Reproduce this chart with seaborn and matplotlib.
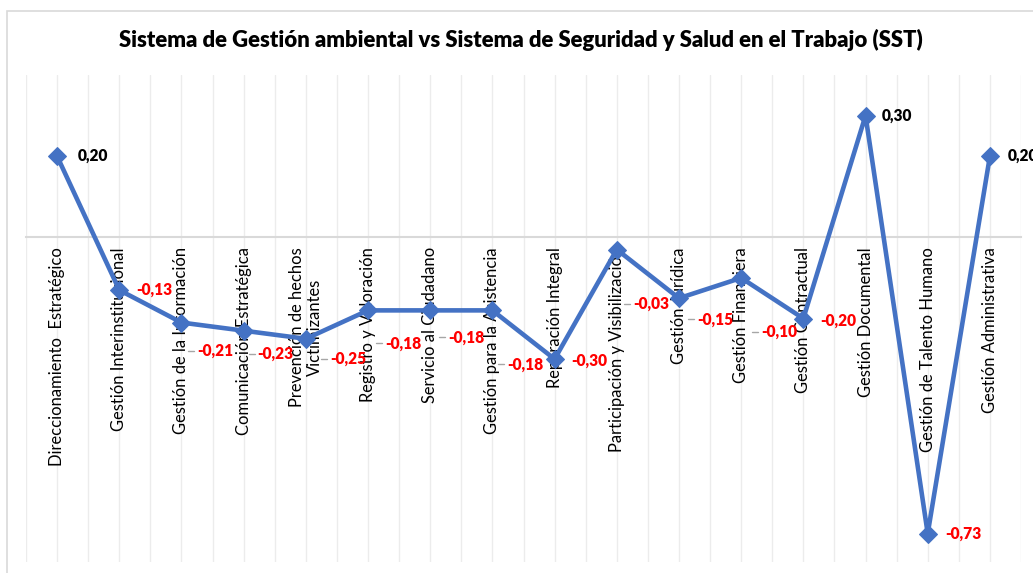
import numpy as np
import pandas as pd
import matplotlib
matplotlib.use("Agg")
import matplotlib.pyplot as plt
import seaborn as sns
from matplotlib.patches import Rectangle
from matplotlib.lines import Line2D

categories = [
    "Direccionamiento  Estratégico",
    "Gestión Interinstitucional",
    "Gestión de la Información",
    "Comunicación Estratégica",
    "Prevención de hechos\nVictimizantes",
    "Registro y Valoración",
    "Servicio al Ciudadano",
    "Gestión para la Asistencia",
    "Reparación Integral",
    "Participación y Visibilización",
    "Gestión Jurídica",
    "Gestión Financiera",
    "Gestión Contractual",
    "Gestión Documental",
    "Gestión de Talento Humano",
    "Gestión Administrativa",
]
values = [0.20, -0.13, -0.21, -0.23, -0.25, -0.18, -0.18, -0.18,
          -0.30, -0.03, -0.15, -0.10, -0.20, 0.30, -0.73, 0.20]
title = "Sistema de Gestión ambiental vs Sistema de Seguridad y Salud en el Trabajo (SST)"

# label placement offsets (pixels): right of point, downward shift
label_dx = [21, 17, 16, 14, 24, 17, 18, 15, 17, 16, 18, 20, 17, 16, 18, 18]
label_dy = [0, 0, 28, 23, 20, 33, 27, 54, 2, 54, 21, 54, 2, 0, 0, 0]

sns.set_theme(style="white")
plt.rcParams['font.family'] = ['Lato', 'DejaVu Sans']

W, H = 1033, 573
fig = plt.figure(figsize=(W / 100, H / 100), dpi=100)
ax = fig.add_axes([26 / W, (H - 562) / H, (1021 - 26) / W, (562 - 75) / H])

# chart border
fig.patches.append(Rectangle((7 / W, -0.05), 1.1, (H - 11) / H + 0.05,
                             transform=fig.transFigure, fill=False,
                             edgecolor="#d9d9d9", linewidth=1.2, zorder=0))

df = pd.DataFrame({"x": np.arange(len(categories)), "y": values})
sns.lineplot(data=df, x="x", y="y", ax=ax, color="#4472C4", linewidth=3.3,
             marker="D", markersize=9, markeredgecolor="#4472C4", zorder=3)

ax.set_xlim(-0.5, len(categories) - 0.5)
ax.set_ylim(-0.80, 0.40)

# vertical gridlines at each half category
for gx in np.arange(-0.5, len(categories), 0.5):
    ax.axvline(gx, color="#ececec", linewidth=1.0, zorder=0)

for s in ["top", "right", "left"]:
    ax.spines[s].set_visible(False)
ax.spines["bottom"].set_position(("data", 0))
ax.spines["bottom"].set_color("#d9d9d9")
ax.spines["bottom"].set_linewidth(1.5)
ax.set_yticks([])
ax.set_xticks(np.arange(len(categories)))
ax.set_xticklabels(categories, rotation=90, fontsize=11.9, color="black",
                   multialignment="center")
ax.tick_params(axis="x", length=0, pad=7)
ax.set_xlabel("")
ax.set_ylabel("")

for i, v in enumerate(values):
    txt = f"{v:.2f}".replace(".", ",")
    col = "black" if v >= 0 else "#ff0000"
    ax.annotate(txt, (i, v), xytext=(label_dx[i], -label_dy[i]),
                textcoords="offset pixels", ha="left", va="center",
                fontsize=11.2, fontweight="heavy", color=col, zorder=5)

# small leader dashes
for i, v in enumerate(values):
    if label_dy[i] > 10:
        x0, y0 = ax.transData.transform((i, v))
        xs = [x0 + label_dx[i] - 9, x0 + label_dx[i] - 3]
        ys = [y0 - label_dy[i], y0 - label_dy[i]]
        fig.lines.append(Line2D(xs, ys, transform=None, color="#a6a6a6", linewidth=1.0))

fig.text(521 / W, 1 - 40 / H, title, ha="center", va="center",
         fontsize=15.9, fontweight="heavy", color="black")

fig.savefig("out.png", dpi=100)
